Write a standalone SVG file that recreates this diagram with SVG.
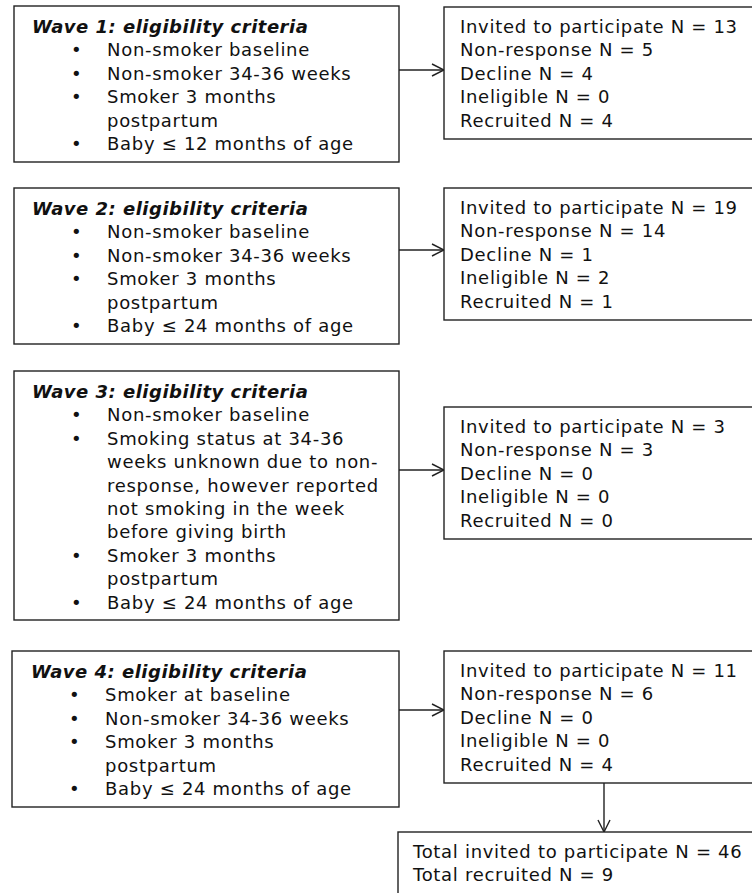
<svg xmlns="http://www.w3.org/2000/svg" width="752" height="893" viewBox="0 0 752 893">
<style>
.box{fill:#fff;stroke:#222;stroke-width:1.4}
text{font-family:"DejaVu Sans",Verdana,sans-serif;font-size:18px;letter-spacing:0.7px;fill:#111}
.t{font-weight:bold;font-style:italic;letter-spacing:0.5px}
.c{fill:none;stroke:#222;stroke-width:1.4}
</style>
<defs>
<marker id="arr" viewBox="0 0 14 14" refX="13" refY="7" markerWidth="14" markerHeight="14" markerUnits="userSpaceOnUse" orient="auto">
<path d="M1,1 L13,7 L1,13" fill="none" stroke="#222" stroke-width="1.4"/>
</marker>
</defs>
<rect width="752" height="893" fill="#fff"/>
<g id="connectors">
<line class="c" x1="399" y1="70" x2="444" y2="70" marker-end="url(#arr)"/>
<line class="c" x1="399" y1="250" x2="444" y2="250" marker-end="url(#arr)"/>
<line class="c" x1="399" y1="470" x2="444" y2="470" marker-end="url(#arr)"/>
<line class="c" x1="399" y1="710" x2="444" y2="710" marker-end="url(#arr)"/>
<line class="c" x1="604" y1="783" x2="604" y2="832" marker-end="url(#arr)"/>
</g>
<g id="wave1">
<rect class="box" x="14" y="6" width="385" height="156"/>
<text class="t" x="32" y="33">Wave 1: eligibility criteria</text>
<text x="71" y="56.4">•</text><text x="107" y="56.4">Non-smoker baseline</text>
<text x="71" y="79.8">•</text><text x="107" y="79.8">Non-smoker 34-36 weeks</text>
<text x="71" y="103.2">•</text><text x="107" y="103.2">Smoker 3 months</text>
<text x="107" y="126.6">postpartum</text>
<text x="71" y="150">•</text><text x="107" y="150">Baby ≤ 12 months of age</text>
</g>
<g id="result1">
<rect class="box" x="444" y="7" width="320" height="132"/>
<text x="460" y="33">Invited to participate N = 13</text>
<text x="460" y="56.4">Non-response N = 5</text>
<text x="460" y="79.8">Decline N = 4</text>
<text x="460" y="103.2">Ineligible N = 0</text>
<text x="460" y="126.6">Recruited N = 4</text>
</g>
<g id="wave2">
<rect class="box" x="14" y="188" width="385" height="156"/>
<text class="t" x="32" y="215">Wave 2: eligibility criteria</text>
<text x="71" y="238.4">•</text><text x="107" y="238.4">Non-smoker baseline</text>
<text x="71" y="261.8">•</text><text x="107" y="261.8">Non-smoker 34-36 weeks</text>
<text x="71" y="285.2">•</text><text x="107" y="285.2">Smoker 3 months</text>
<text x="107" y="308.6">postpartum</text>
<text x="71" y="332">•</text><text x="107" y="332">Baby ≤ 24 months of age</text>
</g>
<g id="result2">
<rect class="box" x="444" y="188" width="320" height="132"/>
<text x="460" y="214">Invited to participate N = 19</text>
<text x="460" y="237.4">Non-response N = 14</text>
<text x="460" y="260.8">Decline N = 1</text>
<text x="460" y="284.2">Ineligible N = 2</text>
<text x="460" y="307.6">Recruited N = 1</text>
</g>
<g id="wave3">
<rect class="box" x="14" y="371" width="385" height="249"/>
<text class="t" x="32" y="398">Wave 3: eligibility criteria</text>
<text x="71" y="421.4">•</text><text x="107" y="421.4">Non-smoker baseline</text>
<text x="71" y="444.8">•</text><text x="107" y="444.8">Smoking status at 34-36</text>
<text x="107" y="468.2">weeks unknown due to non-</text>
<text x="107" y="491.6">response, however reported</text>
<text x="107" y="515">not smoking in the week</text>
<text x="107" y="538.4">before giving birth</text>
<text x="71" y="561.8">•</text><text x="107" y="561.8">Smoker 3 months</text>
<text x="107" y="585.2">postpartum</text>
<text x="71" y="608.6">•</text><text x="107" y="608.6">Baby ≤ 24 months of age</text>
</g>
<g id="result3">
<rect class="box" x="444" y="407" width="320" height="132"/>
<text x="460" y="433">Invited to participate N = 3</text>
<text x="460" y="456.4">Non-response N = 3</text>
<text x="460" y="479.8">Decline N = 0</text>
<text x="460" y="503.2">Ineligible N = 0</text>
<text x="460" y="526.6">Recruited N = 0</text>
</g>
<g id="wave4">
<rect class="box" x="12" y="651" width="387" height="156"/>
<text class="t" x="31" y="678">Wave 4: eligibility criteria</text>
<text x="69" y="701.4">•</text><text x="105" y="701.4">Smoker at baseline</text>
<text x="69" y="724.8">•</text><text x="105" y="724.8">Non-smoker 34-36 weeks</text>
<text x="69" y="748.2">•</text><text x="105" y="748.2">Smoker 3 months</text>
<text x="105" y="771.6">postpartum</text>
<text x="69" y="795">•</text><text x="105" y="795">Baby ≤ 24 months of age</text>
</g>
<g id="result4">
<rect class="box" x="444" y="651" width="320" height="132"/>
<text x="460" y="677">Invited to participate N = 11</text>
<text x="460" y="700.4">Non-response N = 6</text>
<text x="460" y="723.8">Decline N = 0</text>
<text x="460" y="747.2">Ineligible N = 0</text>
<text x="460" y="770.6">Recruited N = 4</text>
</g>
<g id="total">
<rect class="box" x="398" y="832" width="370" height="80"/>
<text x="413" y="858">Total invited to participate N = 46</text>
<text x="413" y="881.4">Total recruited N = 9</text>
</g>
</svg>
